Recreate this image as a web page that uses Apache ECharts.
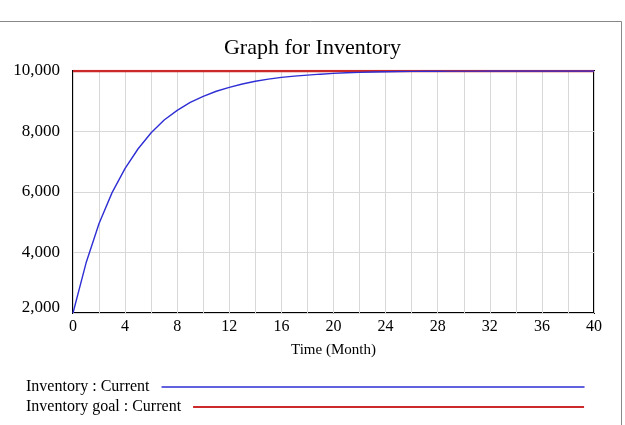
<!DOCTYPE html>
<html>
<head>
<meta charset="utf-8">
<script src="https://cdn.jsdelivr.net/npm/echarts@6/dist/echarts.min.js"></script>
<style>
  html, body { margin: 0; padding: 0; background: #fff; }
  #chart { width: 625px; height: 425px; }
</style>
</head>
<body>
<div id="chart"></div>
<script>
// months 0..40
var months = [0, 1, 2, 3, 4, 5, 6, 7, 8, 9, 10, 11, 12, 13, 14, 15, 16, 17, 18, 19, 20,
    21, 22, 23, 24, 25, 26, 27, 28, 29, 30, 31, 32, 33, 34, 35, 36, 37, 38, 39, 40];

// Inventory : Current
var inventory = [2000, 3650, 4960, 5980, 6780, 7430, 7960, 8380, 8700, 8960, 9160,
    9330, 9460, 9570, 9660, 9730, 9790, 9830, 9865, 9895, 9920,
    9940, 9955, 9965, 9975, 9982, 9987, 9990, 9993, 9995, 9996,
    9997, 9998, 9998, 9999, 9999, 9999, 10000, 10000, 10000, 10000];

// Inventory goal : Current
var inventoryGoal = [10000, 10000, 10000, 10000, 10000, 10000, 10000, 10000, 10000, 10000, 10000,
    10000, 10000, 10000, 10000, 10000, 10000, 10000, 10000, 10000, 10000,
    10000, 10000, 10000, 10000, 10000, 10000, 10000, 10000, 10000, 10000,
    10000, 10000, 10000, 10000, 10000, 10000, 10000, 10000, 10000, 10000];

var serif = "'Liberation Serif', 'Times New Roman', serif";

function pairs(ys) {
    var out = [];
    for (var i = 0; i < months.length; i++) {
        out.push([months[i], ys[i]]);
    }
    return out;
}

var myChart = echarts.init(document.getElementById('chart'), null, {renderer: 'canvas'});

var option = {
    animation: false,
    backgroundColor: '#fff',
    title: {
        text: 'Graph for Inventory',
        left: 'center',
        top: 32,
        textStyle: {fontFamily: serif, fontSize: 22, fontWeight: 'normal', color: '#000'}
    },
    graphic: [{
        type: 'rect',
        shape: {x: -1, y: 21.5, width: 622.5, height: 420},
        style: {fill: 'none', stroke: '#888', lineWidth: 1},
        silent: true
    }],
    legend: [
        {
            data: ['Inventory : Current'],
            left: 26,
            top: 379,
            padding: 0,
            align: 'right',
            icon: 'rect',
            itemWidth: 423,
            itemHeight: 1.5,
            textStyle: {fontFamily: serif, fontSize: 16, color: '#000', padding: [0, 7, 0, 0]}
        },
        {
            data: ['Inventory goal : Current'],
            left: 26,
            top: 399,
            padding: 0,
            align: 'right',
            icon: 'rect',
            itemWidth: 391,
            itemHeight: 2,
            textStyle: {fontFamily: serif, fontSize: 16, color: '#000', padding: [0, 7, 0, 0]}
        }
    ],
    grid: {
        left: 73,
        right: 31,
        top: 71,
        bottom: 112,
        show: true,
        borderColor: '#000',
        borderWidth: 2
    },
    xAxis: {
        type: 'value',
        min: 0,
        max: 40,
        interval: 4,
        name: 'Time (Month)',
        nameLocation: 'middle',
        nameGap: 30,
        nameTextStyle: {fontFamily: serif, fontSize: 15, color: '#000'},
        axisLine: {show: false},
        axisTick: {show: false},
        axisLabel: {fontFamily: serif, fontSize: 16, color: '#000', margin: 6},
        splitLine: {show: true, lineStyle: {color: '#d8d8d8', width: 1}},
        minorTick: {show: false, splitNumber: 2},
        minorSplitLine: {show: true, lineStyle: {color: '#d8d8d8', width: 1}}
    },
    yAxis: {
        type: 'value',
        min: 2000,
        max: 10000,
        interval: 2000,
        axisLine: {show: false},
        axisTick: {show: false},
        axisLabel: {
            fontFamily: serif,
            fontSize: 17,
            color: '#000',
            margin: 13,
            formatter: function (v) {
                var s = v.toLocaleString('en-US');
                return v === 2000 ? '{low|' + s + '}' : s;
            },
            rich: {
                low: {fontFamily: serif, fontSize: 17, color: '#000', padding: [0, 0, 10, 0]}
            }
        },
        splitLine: {show: true, lineStyle: {color: '#d8d8d8', width: 1}}
    },
    series: [
        {
            name: 'Inventory goal : Current',
            type: 'line',
            data: pairs(inventoryGoal),
            showSymbol: false,
            symbol: 'none',
            color: '#cc2a2a',
            lineStyle: {width: 2.5, color: '#cc2a2a'},
            z: 2
        },
        {
            name: 'Inventory : Current',
            type: 'line',
            data: pairs(inventory),
            showSymbol: false,
            symbol: 'none',
            color: '#2e2ed4',
            lineStyle: {width: 1.4, color: '#2e2ed4'},
            z: 3
        }
    ]
};

option && myChart.setOption(option);
</script>
</body>
</html>
